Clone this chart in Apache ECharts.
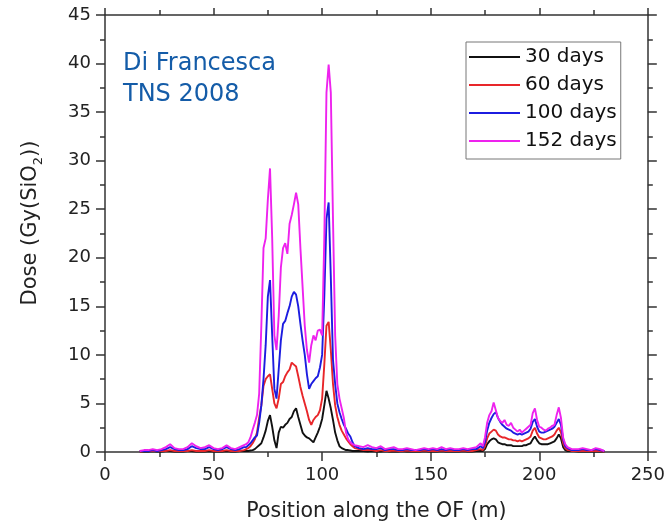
<!DOCTYPE html>
<html>
<head>
<meta charset="utf-8">
<script src="https://cdn.jsdelivr.net/npm/echarts@6/dist/echarts.min.js"></script>
<style>html,body{margin:0;padding:0;background:#fff}#c{width:668px;height:527px}</style>
</head>
<body>
<div id="c"></div>
<script>
const positions = [16,18,20,22,24,26,28,30,32,34,36,38,40,42,44,46,48,50,52,54,56,58,60,62,64,
65,66,67,68,69,70,71,72,73,74,75,76,77,78,79,80,81,82,83,84,85,86,87,88,89,90,91,92,93,94,95,96,97,98,99,100,101,102,103,104,105,106,107,108,109,110,111,112,113,114,115,
117,119,121,123,125,127,129,131,133,135,137,139,141,143,145,147,149,151,153,155,157,159,161,163,165,167,169,171,173,
174,175,176,177,178,179,180,181,182,183,184,185,186,187,188,189,190,191,192,193,194,195,196,197,198,199,200,201,202,203,204,205,206,207,208,209,210,211,212,213,214,215,216,
218,220,222,224,226,228,230];

const dose30 = [0.05,0.05,0.05,0.1,0.05,0.05,0.1,0.1,0.05,0.05,0.05,0.1,0.1,0.05,0.05,0.05,0.1,0.05,0.05,0.05,0.1,0.05,0.05,0.1,0.1,
0.1,0.1,0.15,0.2,0.3,0.5,0.7,0.9,1.5,2.2,
3.2,3.8,2.6,1.2,0.4,2.0,2.6,2.5,2.8,3.0,
3.4,3.6,4.2,4.5,3.6,2.8,2.0,1.7,1.5,1.4,
1.2,1.0,1.5,2.0,2.6,3.4,4.8,6.3,5.5,4.5,
3.3,2.0,1.2,0.6,0.4,0.3,0.2,0.2,0.15,0.1,0.1,
0.1,0.1,0.05,0.1,0.05,0.05,0.1,0.05,0.05,0.05,0.1,0.05,0.05,0.05,0.05,0.1,0.05,0.05,0.05,0.1,0.05,0.05,0.05,0.05,0.1,0.05,0.05,0.1,0.1,
0.1,0.3,0.8,1.1,1.3,1.4,1.3,1.0,0.9,0.8,
0.8,0.7,0.7,0.7,0.6,0.6,0.6,0.6,0.6,0.7,
0.7,0.8,0.9,1.3,1.6,1.2,0.9,0.8,0.8,0.8,
0.8,0.9,1.0,1.1,1.4,1.8,1.4,0.5,0.2,0.1,
0.1,0.1,0.1,
0.05,0.05,0.05,0.05,0.05,0.05,0.05];

const dose60 = [0.05,0.1,0.1,0.1,0.1,0.1,0.1,0.2,0.1,0.1,0.1,0.1,0.2,0.1,0.1,0.1,0.2,0.1,0.1,0.1,0.2,0.1,0.1,0.1,0.2,
0.3,0.4,0.6,0.9,1.3,2.0,3.5,4.8,6.8,7.5,
7.8,8.0,6.5,5.0,4.5,5.5,7.0,7.2,7.8,8.2,
8.5,9.2,9.0,8.8,7.8,6.7,5.8,5.0,4.2,3.3,
2.8,3.3,3.6,3.8,4.3,5.5,9.0,13.0,13.4,10.5,
7.0,4.8,3.6,2.8,2.2,1.8,1.4,1.1,0.8,0.6,0.4,
0.3,0.2,0.2,0.2,0.1,0.2,0.1,0.1,0.15,0.1,0.1,0.15,0.1,0.1,0.1,0.15,0.1,0.1,0.1,0.15,0.1,0.1,0.1,0.1,0.15,0.1,0.1,0.2,0.3,
0.2,0.6,1.4,1.9,2.1,2.3,2.2,1.8,1.6,1.5,
1.5,1.4,1.3,1.3,1.2,1.2,1.1,1.2,1.1,1.2,
1.3,1.4,1.6,2.2,2.5,1.9,1.5,1.4,1.3,1.3,
1.4,1.5,1.6,1.8,2.2,2.5,2.0,0.9,0.4,0.2,
0.2,0.1,0.1,
0.1,0.1,0.1,0.1,0.1,0.1,0.05];

const dose100 = [0.1,0.1,0.1,0.2,0.1,0.2,0.3,0.5,0.3,0.2,0.2,0.3,0.6,0.4,0.3,0.3,0.5,0.3,0.2,0.3,0.5,0.3,0.2,0.3,0.5,
0.5,0.7,0.9,1.2,1.5,1.7,3.0,4.8,7.5,11,
16,17.7,12,6.5,5.5,8.5,11.5,13.2,13.5,14.3,
15,16,16.5,16.2,15,13.2,11.5,10,8,6.5,
7,7.3,7.6,7.8,8.7,10,16,24,25.7,18,
9.5,7,5,4.1,3.4,2.8,2.4,1.9,1.6,1.0,0.6,
0.4,0.3,0.4,0.3,0.3,0.4,0.2,0.3,0.3,0.2,0.2,0.3,0.2,0.2,0.2,0.3,0.2,0.3,0.2,0.3,0.2,0.3,0.2,0.2,0.3,0.2,0.3,0.3,0.6,
0.4,1.0,2.2,3.0,3.5,3.9,4.1,3.5,3.1,2.8,
2.6,2.4,2.3,2.2,2.0,1.9,1.8,1.9,1.8,1.9,
2.0,2.1,2.4,3.1,3.4,2.6,2.1,2.0,2.0,2.1,
2.2,2.3,2.4,2.6,3.0,3.4,2.8,1.3,0.6,0.4,
0.3,0.2,0.2,
0.2,0.3,0.2,0.2,0.3,0.2,0.1];

const dose152 = [0.1,0.2,0.2,0.3,0.2,0.3,0.5,0.8,0.4,0.3,0.3,0.5,0.9,0.6,0.4,0.5,0.7,0.4,0.3,0.4,0.7,0.4,0.3,0.5,0.7,
0.8,1.0,1.5,2.3,3.0,3.8,6,13,21,22,
26,29.2,22,12,10.5,14,19,21,21.5,20.4,
23.5,24.4,25.5,26.7,25.5,21,17,13,10.5,9.2,
11,12,11.5,12.5,12.6,12,22,37,39.9,37,
24,12,7,5.5,4.5,3.5,2,1.3,1.0,0.8,0.7,
0.6,0.5,0.7,0.5,0.4,0.6,0.3,0.4,0.5,0.3,0.3,0.4,0.3,0.2,0.3,0.4,0.3,0.4,0.3,0.5,0.3,0.4,0.3,0.3,0.4,0.3,0.4,0.5,0.9,
0.6,1.5,3.0,3.8,4.2,5.1,4.3,3.5,3.2,3.0,
3.3,2.8,2.7,3.0,2.5,2.3,2.1,2.3,2.0,2.2,
2.4,2.6,2.8,4.0,4.5,3.3,2.6,2.5,2.3,2.2,
2.4,2.5,2.7,2.8,3.8,4.6,3.5,1.5,0.8,0.5,
0.4,0.3,0.3,
0.3,0.4,0.3,0.2,0.4,0.3,0.1];

const seriesNames = ['30 days', '60 days', '100 days', '152 days'];
const seriesColors = ['#111111', '#e8262a', '#1c1ce0', '#ee22ee'];
const seriesValues = [dose30, dose60, dose100, dose152];

const xTicks = {min: 0, max: 250, interval: 50};
const yTicks = {min: 0, max: 45, interval: 5};

const FONT = 'DejaVu Sans';
const chart = echarts.init(document.getElementById('c'), null, {renderer: 'canvas'});

const axisLineStyle = {color: '#333', width: 1.5};
function makeAxis(base, pos, showLabel, extra) {
  return Object.assign({
    type: 'value', position: pos,
    min: base.min, max: base.max, interval: base.interval,
    axisLine: {show: true, onZero: false, lineStyle: axisLineStyle},
    axisTick: {show: true, inside: false, length: 9, lineStyle: axisLineStyle},
    minorTick: {show: true, splitNumber: 2, length: 5, lineStyle: {color: '#333', width: 1.5}},
    splitLine: {show: false},
    minorSplitLine: {show: false},
    axisLabel: {show: showLabel, color: '#222', fontFamily: FONT, fontSize: 18, margin: 14}
  }, extra || {});
}

chart.setOption({
  animation: false,
  backgroundColor: '#fff',
  grid: {left: 105, right: 18, top: 15, bottom: 70, containLabel: false},
  xAxis: [
    makeAxis(xTicks, 'bottom', true, {
      name: 'Position along the OF (m)', nameLocation: 'middle', nameGap: 49,
      nameTextStyle: {color: '#222', fontFamily: FONT, fontSize: 20.5}
    }),
    makeAxis(xTicks, 'top', false, {axisTick: {show: true, inside: false, length: 7, lineStyle: axisLineStyle}})
  ],
  yAxis: [
    makeAxis(yTicks, 'left', true),
    makeAxis(yTicks, 'right', false)
  ],
  legend: {
    orient: 'vertical', left: 466, top: 42,
    padding: [5, 4, 8, 3],
    itemWidth: 51, itemHeight: 2, itemGap: 8,
    icon: 'rect',
    borderColor: '#777', borderWidth: 1,
    backgroundColor: '#fff',
    textStyle: {color: '#111', fontFamily: FONT, fontSize: 20},
    data: seriesNames
  },
  graphic: [
    {
      type: 'text', left: 123, top: 48,
      style: {text: 'Di Francesca\nTNS 2008', fill: '#145ca8', font: '24px "DejaVu Sans"', lineHeight: 31}
    },
    {
      type: 'text', x: 33, y: 223, rotation: Math.PI / 2,
      style: {
        text: '{a|Dose (Gy(SiO}{b|2}{a|))}',
        align: 'center', verticalAlign: 'middle',
        rich: {
          a: {fontFamily: FONT, fontSize: 21, fill: '#222', verticalAlign: 'bottom', padding: [0, 0, 4, 0]},
          b: {fontFamily: FONT, fontSize: 13, fill: '#222', verticalAlign: 'bottom'}
        }
      }
    }
  ],
  series: seriesNames.map((name, i) => ({
    name: name,
    type: 'line',
    xAxisIndex: 0, yAxisIndex: 0,
    showSymbol: false, symbol: 'none',
    color: seriesColors[i],
    lineStyle: {color: seriesColors[i], width: 1.9},
    data: positions.map((p, k) => [p, seriesValues[i][k]])
  }))
});
</script>
</body>
</html>
